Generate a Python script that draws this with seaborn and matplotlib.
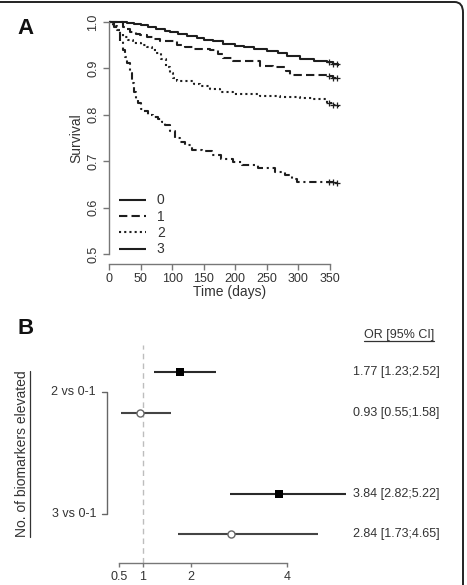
import numpy as np
import pandas as pd
import matplotlib
matplotlib.use("Agg")
import matplotlib.pyplot as plt
from matplotlib.lines import Line2D
from matplotlib.patches import FancyBboxPatch
import seaborn as sns

# ---------------- data ----------------
# Panel A: Kaplan-Meier survival by number of elevated biomarkers
t0 = [0, 28, 40, 50, 62, 75, 88, 97, 110, 123, 140, 150, 165, 181, 200, 213, 230, 250, 268, 282, 302, 325, 345, 355, 362]
s0 = [1.0, 0.998, 0.996, 0.993, 0.989, 0.984, 0.981, 0.978, 0.974, 0.970, 0.965, 0.962, 0.958, 0.952, 0.949, 0.946, 0.942, 0.938, 0.934, 0.927, 0.920, 0.917, 0.913, 0.909, 0.905]
t1 = [0, 22, 28, 33, 42, 49, 60, 70, 80, 91, 107, 120, 133, 160, 172, 181, 197, 239, 260, 280, 287, 345, 355, 362]
s1 = [1.0, 0.990, 0.984, 0.979, 0.975, 0.972, 0.967, 0.963, 0.960, 0.958, 0.950, 0.946, 0.941, 0.940, 0.930, 0.922, 0.915, 0.906, 0.904, 0.895, 0.886, 0.884, 0.880, 0.875]
t2 = [0, 6, 12, 18, 22, 30, 38, 50, 60, 68, 75, 82, 91, 97, 102, 107, 123, 135, 144, 160, 176, 197, 239, 271, 302, 323, 345, 355, 362]
s2 = [1.0, 0.992, 0.983, 0.975, 0.968, 0.961, 0.955, 0.951, 0.947, 0.940, 0.933, 0.920, 0.904, 0.890, 0.879, 0.873, 0.872, 0.866, 0.862, 0.856, 0.850, 0.844, 0.840, 0.839, 0.836, 0.833, 0.825, 0.821, 0.817]
t3 = [0, 8, 15, 18, 22, 25, 28, 33, 36, 40, 43, 46, 50, 54, 62, 70, 78, 84, 89, 96, 104, 112, 120, 131, 147, 163, 178, 197, 210, 236, 263, 279, 289, 297, 358, 362]
s3 = [1.0, 0.990, 0.983, 0.960, 0.940, 0.925, 0.911, 0.890, 0.868, 0.850, 0.835, 0.825, 0.813, 0.808, 0.800, 0.795, 0.790, 0.784, 0.778, 0.765, 0.749, 0.742, 0.735, 0.724, 0.722, 0.713, 0.704, 0.699, 0.692, 0.685, 0.677, 0.670, 0.661, 0.656, 0.654, 0.653]
censor_times = [349, 355, 361]
groups = ["0", "1", "2", "3"]
legend_labels = ["0", "1", "2", "3"]

# Panel B: forest plot
or_est = [1.77, 0.93, 3.84, 2.84]
or_lo = [1.23, 0.55, 2.82, 1.73]
or_hi = [2.52, 1.58, 5.22, 4.65]
or_text = ["1.77 [1.23;2.52]", "0.93 [0.55;1.58]", "3.84 [2.82;5.22]", "2.84 [1.73;4.65]"]
adjusted = [True, False, True, False]
row_pos = [6, 5, 3, 2]
comparisons = ["2 vs 0-1", "3 vs 0-1"]
comparison_pos = [5.5, 2.5]
b_ticks = [0.5, 1, 2, 4]
b_ticklabels = ["0.5", "1", "2", "4"]

# ---------------- style ----------------
sns.set_theme(style="white")
plt.rcParams["font.family"] = ["Liberation Sans", "DejaVu Sans"]
TXT = "#333333"
AX = "#777777"

W, H = 467, 585
fig = plt.figure(figsize=(W / 100, H / 100), dpi=100)

def fx(px):
    return px / W

def fy(py):
    return 1 - py / H

# ---------------- Panel A ----------------
axA = fig.add_axes([fx(109), fy(264), fx(339.5) - fx(109), fy(12.7) - fy(264)])
axA.set_xlim(0, 365)
axA.set_ylim(0.5 - 10 / 464, 1.0 + 9.3 / 464)

rows = []
for g, t, s in zip(groups, [t0, t1, t2, t3], [s0, s1, s2, s3]):
    for ti, si in zip(t, s):
        rows.append({"time": ti, "surv": si, "group": g})
km = pd.DataFrame(rows)

styles = {"0": (0, ()), "1": (0, (4, 2)), "2": (0, (1, 1.5)), "3": (0, (1, 1.8, 3.5, 1.8))}
line_color = "#1e1e1e"
for g in groups:
    d = km[km.group == g]
    sns.lineplot(data=d, x="time", y="surv", ax=axA, color=line_color, lw=1.5,
                 drawstyle="steps-post", linestyle=styles[g], estimator=None,
                 sort=False, legend=False)
    tt = np.array(d.time)
    ss = np.array(d.surv)
    idx = np.searchsorted(tt, censor_times, side="right") - 1
    axA.plot(censor_times, ss[idx], ls="none", marker="+", ms=5, mew=0.9, color=line_color)

axA.set_xlabel("")
axA.set_ylabel("")
for sp in ["top", "right"]:
    axA.spines[sp].set_visible(False)
axA.spines["left"].set_bounds(0.5, 1.0)
axA.spines["bottom"].set_bounds(0, 350)
for sp in ["left", "bottom"]:
    axA.spines[sp].set_color(AX)
    axA.spines[sp].set_linewidth(1.0)
axA.set_xticks([0, 50, 100, 150, 200, 250, 300, 350])
axA.set_yticks([0.5, 0.6, 0.7, 0.8, 0.9, 1.0])
axA.set_yticklabels(["0.5", "0.6", "0.7", "0.8", "0.9", "1.0"], rotation=90, va="center")
axA.tick_params(axis="both", which="both", direction="out", length=4, width=1.0,
                color=AX, labelcolor=TXT, labelsize=9, left=True, bottom=True)
axA.tick_params(axis="x", pad=2.5)
axA.tick_params(axis="y", pad=3)

handles = [Line2D([], [], color=line_color, lw=1.5, linestyle=ls)
           for ls in [styles["0"], styles["1"], styles["2"], styles["0"]]]
axA.legend(handles, legend_labels, loc="lower left", bbox_to_anchor=(0.045, 0.03),
           frameon=False, fontsize=10, handlelength=1.9, handletextpad=0.8,
           labelspacing=0.17, borderpad=0, borderaxespad=0, labelcolor=TXT)

fig.text(fx(76), fy(138), "Survival", rotation=90, ha="center", va="center",
         fontsize=10, color=TXT)
fig.text(fx(230), fy(292), "Time (days)", ha="center", va="center", fontsize=10, color=TXT)
fig.text(fx(26), fy(28), "A", ha="center", va="center", fontsize=16, fontweight="bold", color="#111111")

# ---------------- Panel B ----------------
unit = 40.5
ybot = 2 - (563 - 534) / unit
ytop = 6 + (372 - 320) / unit
axB = fig.add_axes([fx(95), fy(563), 1 - fx(95), fy(320) - fy(563)])
axB.set_xlim(0, (W - 95) / 48)
axB.set_ylim(ybot, ytop)

forest = pd.DataFrame({"or": or_est, "lo": or_lo, "hi": or_hi, "y": row_pos, "adj": adjusted})

# reference line at OR = 1
axB.plot([1, 1], [ybot, 6 + (372 - 345) / unit], color="#bdbdbd", lw=1.0,
         linestyle=(0, (4, 3)), zorder=1)

for _, r in forest.iterrows():
    axB.hlines(r["y"], r["lo"], r["hi"], color="#2a2a2a" if r["adj"] else "#444444",
               lw=1.5, zorder=2)
sq = forest[forest.adj]
ci = forest[~forest.adj]
sns.scatterplot(data=sq, x="or", y="y", ax=axB, marker="s", s=38, color="black",
                edgecolor="black", linewidth=0, zorder=3, legend=False)
sns.scatterplot(data=ci, x="or", y="y", ax=axB, marker="o", s=26, facecolor="white",
                edgecolor="#666666", linewidth=1.0, zorder=3, legend=False)
axB.set_xlabel("")
axB.set_ylabel("")

for y, txt in zip(row_pos, or_text):
    axB.text((353 - 95) / 48, y, txt, ha="left", va="center", fontsize=9, color=TXT)

# comparison labels with bracket
bx = (107 - 95) / 48
bx0 = (102 - 95) / 48
axB.plot([bx0, bx, bx, bx0], [comparison_pos[0], comparison_pos[0], comparison_pos[1], comparison_pos[1]],
         color="#666666", lw=1.0, clip_on=False)
for y, lab in zip(comparison_pos, comparisons):
    axB.text((96 - 95) / 48, y, lab, ha="right", va="center", fontsize=9, color=TXT, clip_on=False)

for sp in ["top", "right", "left"]:
    axB.spines[sp].set_visible(False)
axB.spines["bottom"].set_bounds(0.5, 4)
axB.spines["bottom"].set_color(AX)
axB.spines["bottom"].set_linewidth(1.0)
axB.set_xticks(b_ticks)
axB.set_xticklabels(b_ticklabels)
axB.set_yticks([])
axB.tick_params(axis="x", direction="out", length=3, width=1.0, color=AX,
                labelcolor=TXT, labelsize=9, pad=2.5, bottom=True)

fig.text(fx(26), fy(329), "B", ha="center", va="center", fontsize=16, fontweight="bold", color="#111111")
t_or = fig.text(fx(399), fy(335), "OR [95% CI]", ha="center", va="center", fontsize=9, color=TXT)
t_yl = fig.text(fx(22), fy(454), "No. of biomarkers elevated", rotation=90, ha="center",
                va="center", fontsize=10, color=TXT)

# underlines
fig.canvas.draw()
r = fig.canvas.get_renderer()
bb = t_or.get_window_extent(r)
fig.add_artist(Line2D([bb.x0 / W, bb.x1 / W], [(bb.y0 + 0.5) / H] * 2, color=TXT, lw=0.9))
bb = t_yl.get_window_extent(r)
fig.add_artist(Line2D([(bb.x1 + 0.5) / W] * 2, [bb.y0 / H, bb.y1 / H], color=TXT, lw=0.9))

# frame (rounded border, cut at left and bottom)
frame = FancyBboxPatch((fx(-30), fy(620)), fx(463) - fx(-30), fy(2) - fy(620),
                       boxstyle="round,pad=0,rounding_size=0.018", transform=fig.transFigure,
                       fill=False, edgecolor="#222222", lw=1.4, clip_on=False)
fig.add_artist(frame)

fig.savefig("out.png", dpi=100)
